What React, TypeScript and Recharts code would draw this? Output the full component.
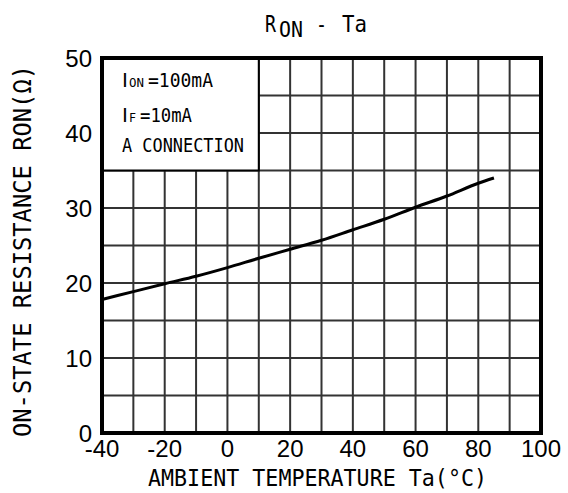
import { LineChart, Line, XAxis, YAxis, CartesianGrid, ReferenceArea } from "recharts";

const temps = [-40, -30, -20, -10, 0, 10, 20, 30, 40, 50, 60, 70, 80, 85];
const ron = [17.8, 18.85, 19.9, 20.9, 22.05, 23.3, 24.5, 25.7, 27.1, 28.5, 30.1, 31.6, 33.3, 34.0];
const xTicks = [-40, -30, -20, -10, 0, 10, 20, 30, 40, 50, 60, 70, 80, 90, 100];
const yTicks = [0, 5, 10, 15, 20, 25, 30, 35, 40, 45, 50];

const data = temps.map((t, i) => ({ t, r: ron[i] }));

const GOTHIC = "'DejaVu Sans Mono', monospace";
const SANS = "'DejaVu Sans', sans-serif";
const NUM = "'Liberation Sans', Arial, sans-serif";

function ConditionsBox({ viewBox }: any) {
  const x = viewBox?.x ?? 0;
  const y = viewBox?.y ?? 0;
  return (
    <g fontFamily={GOTHIC} fill="#000">
      <text x={x + 20} y={y + 29} fontSize={20} fontFamily={SANS}>I</text>
      <text x={x + 27} y={y + 29} fontSize={13} textLength={15} lengthAdjust="spacingAndGlyphs">ON</text>
      <text x={x + 46} y={y + 29} fontSize={20} textLength={65} lengthAdjust="spacingAndGlyphs">=100mA</text>
      <text x={x + 20} y={y + 64} fontSize={20} fontFamily={SANS}>I</text>
      <text x={x + 27} y={y + 64} fontSize={13} textLength={7} lengthAdjust="spacingAndGlyphs">F</text>
      <text x={x + 38} y={y + 64} fontSize={20} textLength={52} lengthAdjust="spacingAndGlyphs">=10mA</text>
      <text x={x + 20} y={y + 94} fontSize={20} textLength={122} lengthAdjust="spacingAndGlyphs">A CONNECTION</text>
    </g>
  );
}

function Title() {
  return (
    <g fontFamily={GOTHIC} fill="#000">
      <text x={265} y={32} fontSize={23} textLength={11} lengthAdjust="spacingAndGlyphs">R</text>
      <text x={279} y={37} fontSize={22} textLength={24} lengthAdjust="spacingAndGlyphs">ON</text>
      <text x={316} y={32} fontSize={23} textLength={11} lengthAdjust="spacingAndGlyphs">-</text>
      <text x={342} y={32} fontSize={23} textLength={25} lengthAdjust="spacingAndGlyphs">Ta</text>
    </g>
  );
}

function XLabel() {
  return (
    <text x={148} y={486} fontFamily={GOTHIC} fontSize={23} fill="#000" textLength={339} lengthAdjust="spacingAndGlyphs">
      AMBIENT TEMPERATURE  Ta(°C)
    </text>
  );
}

function YLabel() {
  return (
    <text
      x={0}
      y={0}
      transform="translate(31,437) rotate(-90)"
      fontFamily={GOTHIC}
      fontSize={25}
      fill="#000"
      textLength={372}
      lengthAdjust="spacingAndGlyphs"
    >
      ON-STATE RESISTANCE  RON(Ω)
    </text>
  );
}

export default function App() {
  return (
    <div style={{ position: "absolute", left: 0, top: 0, width: 568, height: 493, background: "#fff" }}>
      <LineChart width={568} height={493} data={data} margin={{ top: 58, right: 27, left: 42, bottom: 30 }}>
        <CartesianGrid stroke="#333" strokeWidth={2} />
        <XAxis
          dataKey="t"
          type="number"
          domain={[-40, 100]}
          ticks={xTicks}
          interval={0}
          height={30}
          axisLine={false}
          tickLine={false}
          tickSize={0}
          tickMargin={7}
          tickFormatter={(v: number) => (v % 20 === 0 ? String(v) : "")}
          tick={{ fill: "#000", fontSize: 24, fontFamily: NUM }}
          label={{ content: () => <XLabel /> }}
        />
        <YAxis
          type="number"
          domain={[0, 50]}
          ticks={yTicks}
          interval={0}
          width={60}
          axisLine={false}
          tickLine={false}
          tickSize={0}
          tickMargin={10}
          tickFormatter={(v: number) => (v % 10 === 0 ? String(v) : "")}
          tick={{ fill: "#000", fontSize: 24, fontFamily: NUM }}
          label={{ content: () => <YLabel /> }}
        />
        <ReferenceArea
          x1={-40}
          x2={10}
          y1={35}
          y2={50}
          fill="#fff"
          fillOpacity={1}
          stroke="#000"
          strokeWidth={2}
          label={{ content: (p: any) => <ConditionsBox viewBox={p.viewBox} /> }}
        />
        <Line
          type="monotone"
          dataKey="r"
          stroke="#000"
          strokeWidth={3}
          dot={false}
          activeDot={false}
          isAnimationActive={false}
        />
        <ReferenceArea
          x1={-40}
          x2={100}
          y1={0}
          y2={50}
          fill="none"
          stroke="#000"
          strokeWidth={4}
          label={{ content: () => <Title /> }}
        />
      </LineChart>
    </div>
  );
}
